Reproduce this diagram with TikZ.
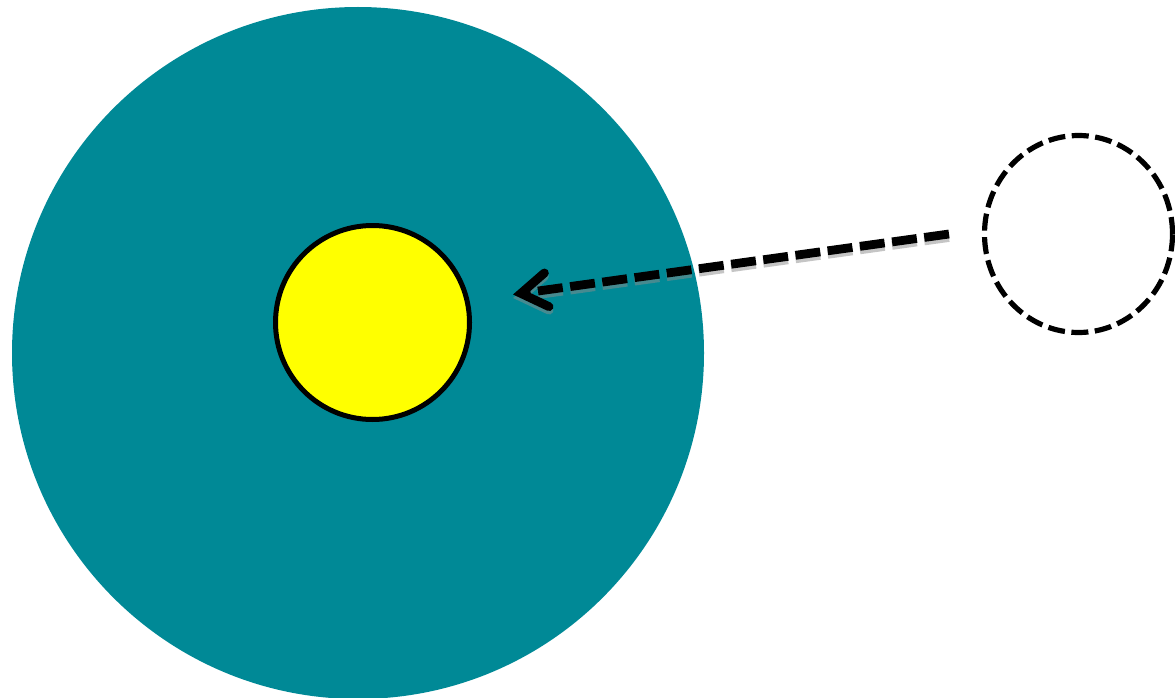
\documentclass[tikz,border=0pt]{standalone}
\usetikzlibrary{arrows.meta,shapes.geometric}
\definecolor{teal1}{RGB}{0,137,150}
\definecolor{sunyellow}{RGB}{255,255,0}
\begin{document}
\begin{tikzpicture}[x=1pt,y=-1pt,
  disc/.style={circle,inner sep=0pt,outer sep=0pt},
  flow/.style={line width=8.8pt,dash pattern=on 25pt off 7.5pt,
    -{Straight Barb[length=26pt,width=34pt,line cap=round,line join=miter]}}]
\useasboundingbox (0,0) rectangle (1175,698);
\begin{scope}
\clip (0,0) rectangle (1175,698);
\node[disc,fill=teal1,minimum size=692pt] (planet) at (358,353) {};
\node[ellipse,inner sep=0pt,outer sep=0pt,draw=black,line width=5.2pt,dash pattern=on 17pt off 6.5pt,minimum width=188pt,minimum height=197pt] (ghost) at (1078.5,234) {};
\end{scope}
\node[disc,fill=sunyellow,draw=black,line width=5pt,minimum size=194pt] (sun) at (372.5,322.5) {};
\coordinate (start) at (949,234);
\coordinate (stop) at (513,294.5);
\draw[flow,black!45,opacity=0.5,transform canvas={yshift=-3.5pt}] (start) -- (stop);
\draw[flow] (start) -- (stop);
\end{tikzpicture}
\end{document}
